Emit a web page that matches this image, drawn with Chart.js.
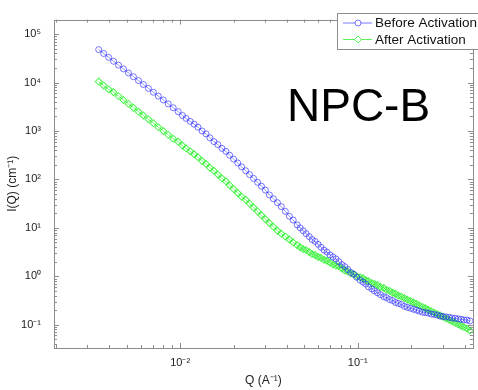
<!DOCTYPE html>
<html>
<head>
<meta charset="utf-8">
<title>NPC-B SANS</title>
<script src="https://cdn.jsdelivr.net/npm/chart.js"></script>
<style>
  body { margin: 0; background: #fff; }
  #wrap { width: 478px; height: 390px; }
</style>
</head>
<body>
<div id="wrap"><canvas id="sansChart" width="478" height="390"></canvas></div>
<script>
// Q values (A^-1)
const qValues = [
  0.00348, 0.00371, 0.00396, 0.00422, 0.00450, 0.00480, 0.00512, 0.00546, 0.00583, 0.00621,
  0.00663, 0.00707, 0.00754, 0.00804, 0.00857, 0.00914, 0.00975,
  0.0103, 0.0108, 0.0114, 0.0120, 0.0126, 0.0133, 0.0140, 0.0147, 0.0155, 0.0163,
  0.0172, 0.0181, 0.0190, 0.0200, 0.0211, 0.0222, 0.0234, 0.0246, 0.0259, 0.0273,
  0.0287, 0.0302, 0.0318, 0.0335, 0.0353, 0.0371, 0.0391, 0.0412, 0.0433, 0.0456,
  0.0474, 0.0493, 0.0512, 0.0533, 0.0553, 0.0575, 0.0598, 0.0621, 0.0646, 0.0671,
  0.0698, 0.0725, 0.0754, 0.0783, 0.0814, 0.0846, 0.0879, 0.0914, 0.0950, 0.0987,
  0.103, 0.107, 0.111, 0.115, 0.120, 0.124, 0.129, 0.134, 0.140, 0.145,
  0.151, 0.157, 0.163, 0.169, 0.176, 0.183, 0.190, 0.198, 0.206, 0.214,
  0.222, 0.231, 0.240, 0.249, 0.259, 0.269, 0.280, 0.291, 0.302, 0.314,
  0.327, 0.339, 0.353, 0.367, 0.381, 0.396, 0.412, 0.428
];

// I(Q) before activation (cm^-1)
const beforeValues = [
  47900, 39800, 33100, 27500, 22900, 19100, 15800, 13200, 11000, 9120,
  7590, 6310, 5250, 4370, 3630, 3020, 2510,
  2090, 1820, 1580, 1380, 1200, 1000, 871, 724, 603, 525,
  437, 380, 316, 263, 219, 182, 151, 126, 105, 87.1,
  72.4, 60.3, 47.9, 39.8, 33.1, 27.5, 21.9, 17.4, 14.5, 11.5,
  10.0, 8.71, 7.59, 6.61, 5.75, 5.25, 4.57, 3.98, 3.47, 3.16,
  2.75, 2.51, 2.29, 2.00, 1.74, 1.58, 1.38, 1.20, 1.10, 0.955,
  0.832, 0.759, 0.692, 0.603, 0.550, 0.501, 0.457, 0.417, 0.380, 0.363,
  0.331, 0.316, 0.288, 0.275, 0.263, 0.240, 0.229, 0.219, 0.209, 0.200,
  0.191, 0.182, 0.178, 0.174, 0.166, 0.163, 0.158, 0.151, 0.148, 0.145,
  0.142, 0.138, 0.136, 0.132, 0.130, 0.126, 0.125, 0.120
];

// I(Q) after activation (cm^-1)
const afterValues = [
  10500, 8710, 7240, 6310, 5250, 4370, 3630, 3020, 2510, 2090,
  1740, 1450, 1200, 1000, 832, 692, 603,
  501, 437, 380, 331, 288, 240, 209, 174, 151, 126,
  105, 91.2, 75.9, 63.1, 52.5, 43.7, 38.0, 31.6, 26.3, 21.9,
  18.2, 15.1, 12.6, 10.5, 8.71, 7.59, 6.61, 5.75, 5.01, 4.37,
  3.98, 3.63, 3.47, 3.16, 2.88, 2.75, 2.51, 2.40, 2.19, 2.09,
  1.91, 1.74, 1.66, 1.60, 1.45, 1.32, 1.26, 1.15, 1.10, 1.00,
  0.955, 0.912, 0.832, 0.794, 0.724, 0.692, 0.661, 0.603, 0.575, 0.525,
  0.501, 0.457, 0.437, 0.398, 0.380, 0.355, 0.331, 0.309, 0.288, 0.269,
  0.251, 0.234, 0.219, 0.204, 0.191, 0.178, 0.166, 0.155, 0.145, 0.135,
  0.126, 0.118, 0.110, 0.102, 0.0955, 0.0891, 0.0832, 0.0759
];

const seriesNames = ['Before Activation', 'After Activation'];

// axis ticks: decades get a label, the rest are minor marks
const xMajorTicks = [0.01, 0.1];
const xMajorLabels = ['10\u207B\u00B2', '10\u207B\u00B9'];
const xMinorTicks = [0.002, 0.003, 0.004, 0.005, 0.006, 0.007, 0.008, 0.009,
  0.02, 0.03, 0.04, 0.05, 0.06, 0.07, 0.08, 0.09, 0.2, 0.3, 0.4];

const yMajorTicks = [0.1, 1, 10, 100, 1000, 10000, 100000];
const yMajorLabels = ['10\u207B\u00B9', '10\u2070', '10\u00B9', '10\u00B2', '10\u00B3', '10\u2074', '10\u2075'];
const yMinorTicks = [0.04, 0.05, 0.06, 0.07, 0.08, 0.09,
  0.2, 0.3, 0.4, 0.5, 0.6, 0.7, 0.8, 0.9,
  2, 3, 4, 5, 6, 7, 8, 9,
  20, 30, 40, 50, 60, 70, 80, 90,
  200, 300, 400, 500, 600, 700, 800, 900,
  2000, 3000, 4000, 5000, 6000, 7000, 8000, 9000,
  20000, 30000, 40000, 50000, 60000, 70000, 80000, 90000];

const BLUE = 'rgba(30, 30, 255, 0.6)';
const GREEN = 'rgba(20, 240, 20, 0.7)';
const AXIS_GREY = '#8c8c8c';
const FONT = "'Liberation Sans', Arial, sans-serif";

function toPoints(ys) {
  return qValues.map((q, i) => ({ x: q, y: ys[i] }));
}

function tickList(major, minor) {
  return major.concat(minor).sort((a, b) => a - b);
}

function labelFor(major, labels, value) {
  for (let i = 0; i < major.length; i++) {
    if (Math.abs(value / major[i] - 1) < 1e-6) return labels[i];
  }
  return '';
}

// MATLAB style box with inward ticks
const boxPlugin = {
  id: 'boxPlugin',
  afterDatasetsDraw(chart) {
    const { ctx, chartArea: a, scales } = chart;
    ctx.save();
    ctx.strokeStyle = AXIS_GREY;
    ctx.lineWidth = 1;
    ctx.strokeRect(Math.round(a.left) + 0.5, Math.round(a.top) + 0.5,
      Math.round(a.right - a.left), Math.round(a.bottom - a.top));
    ctx.beginPath();
    scales.x.ticks.forEach(t => {
      const px = Math.round(scales.x.getPixelForValue(t.value)) + 0.5;
      const len = xMajorTicks.includes(t.value) ? 5 : 3;
      ctx.moveTo(px, a.bottom); ctx.lineTo(px, a.bottom - len);
      ctx.moveTo(px, a.top); ctx.lineTo(px, a.top + len);
    });
    scales.y.ticks.forEach(t => {
      const py = Math.round(scales.y.getPixelForValue(t.value)) + 0.5;
      const len = yMajorTicks.includes(t.value) ? 5 : 3;
      ctx.moveTo(a.left, py); ctx.lineTo(a.left + len, py);
      ctx.moveTo(a.right, py); ctx.lineTo(a.right - len, py);
    });
    ctx.stroke();
    ctx.restore();
  },
  afterDraw(chart) {
    const ctx = chart.ctx;
    ctx.save();
    // legend box in the upper right corner
    ctx.fillStyle = '#fff';
    ctx.fillRect(337, 13, 145, 36);
    ctx.strokeStyle = AXIS_GREY;
    ctx.strokeRect(337.5, 13.5, 145, 36);
    chart.data.datasets.forEach((ds, i) => {
      const y = 23 + i * 16.5;
      ctx.strokeStyle = ds.borderColor;
      ctx.lineWidth = 1;
      ctx.beginPath();
      ctx.moveTo(343, y); ctx.lineTo(372, y);
      ctx.stroke();
      ctx.beginPath();
      if (ds.pointStyle === 'rectRot') {
        ctx.moveTo(358, y - 3.5); ctx.lineTo(361.5, y); ctx.lineTo(358, y + 3.5); ctx.lineTo(354.5, y);
        ctx.closePath();
      } else {
        ctx.arc(358, y, 3, 0, Math.PI * 2);
      }
      ctx.fillStyle = '#fff';
      ctx.fill();
      ctx.stroke();
      ctx.fillStyle = '#111';
      ctx.font = '13.5px ' + FONT;
      ctx.textBaseline = 'middle';
      ctx.fillText(ds.label, 375, y + 0.5);
    });
    // sample name
    ctx.fillStyle = '#000';
    ctx.font = '46px ' + FONT;
    ctx.textBaseline = 'alphabetic';
    ctx.fillText('NPC-B', 287, 121);
    ctx.restore();
  }
};

const chart = new Chart(document.getElementById('sansChart'), {
  type: 'scatter',
  data: {
    datasets: [
      {
        label: seriesNames[0],
        data: toPoints(beforeValues),
        showLine: true,
        borderColor: BLUE,
        borderWidth: 0.8,
        pointStyle: 'circle',
        pointRadius: 3,
        pointBorderWidth: 1,
        pointBorderColor: BLUE,
        pointBackgroundColor: 'rgba(0,0,0,0)'
      },
      {
        label: seriesNames[1],
        data: toPoints(afterValues),
        showLine: true,
        borderColor: GREEN,
        borderWidth: 0.8,
        pointStyle: 'rectRot',
        pointRadius: 3.4,
        pointBorderWidth: 1.1,
        pointBorderColor: GREEN,
        pointBackgroundColor: 'rgba(0,0,0,0)'
      }
    ]
  },
  options: {
    responsive: false,
    animation: false,
    devicePixelRatio: 1,
    layout: { padding: { top: 9, right: 2, left: 0, bottom: 0 } },
    plugins: {
      legend: { display: false },
      tooltip: { enabled: false }
    },
    scales: {
      x: {
        type: 'logarithmic',
        min: 0.00195,
        max: 0.4446,
        afterBuildTicks: scale => {
          scale.ticks = tickList(xMajorTicks, xMinorTicks).map(v => ({ value: v }));
        },
        afterFit: scale => { scale.height = 42; },
        grid: { display: false, drawTicks: false },
        border: { display: false },
        ticks: {
          autoSkip: false,
          maxRotation: 0,
          padding: 8,
          color: '#222',
          font: { family: FONT, size: 11 },
          callback: v => labelFor(xMajorTicks, xMajorLabels, v)
        },
        title: {
          display: true,
          text: 'Q (A\u207B\u00B9)',
          color: '#222',
          font: { family: FONT, size: 12 },
          padding: { top: 0, bottom: 2 }
        }
      },
      y: {
        type: 'logarithmic',
        min: 0.0331,
        max: 199500,
        afterBuildTicks: scale => {
          scale.ticks = tickList(yMajorTicks, yMinorTicks).map(v => ({ value: v }));
        },
        afterFit: scale => { scale.width = 54; },
        grid: { display: false, drawTicks: false },
        border: { display: false },
        ticks: {
          autoSkip: false,
          padding: 13,
          color: '#222',
          font: { family: FONT, size: 11 },
          callback: v => labelFor(yMajorTicks, yMajorLabels, v)
        },
        title: {
          display: true,
          text: 'I(Q) (cm\u207B\u00B9)',
          color: '#222',
          font: { family: FONT, size: 12 },
          padding: { top: 5, bottom: 0 }
        }
      }
    }
  },
  plugins: [boxPlugin]
});
</script>
</body>
</html>
